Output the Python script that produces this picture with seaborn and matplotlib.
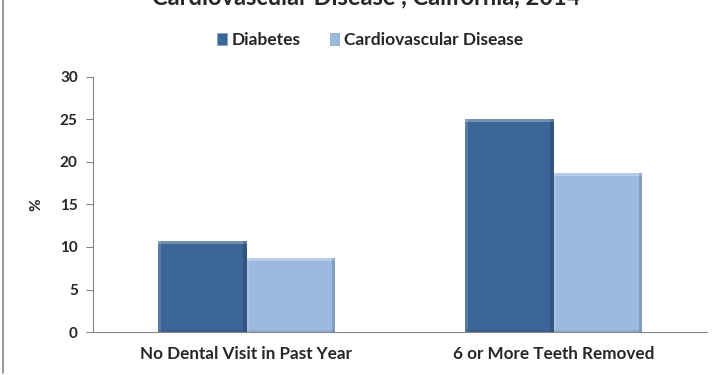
import matplotlib
matplotlib.use("Agg")
import matplotlib.pyplot as plt
import seaborn as sns
import pandas as pd
from matplotlib.patches import Rectangle
from matplotlib.lines import Line2D

categories = ["No Dental Visit in Past Year", "6 or More Teeth Removed"]
series_names = ["Diabetes", "Cardiovascular Disease"]
diabetes = [10.7, 25.0]
cardio = [8.7, 18.7]
y_ticks = [0, 5, 10, 15, 20, 25, 30]

colors = ["#3D6698", "#9CB9E0"]

df = pd.DataFrame({
    "category": categories * 2,
    "series": [series_names[0]] * 2 + [series_names[1]] * 2,
    "value": diabetes + cardio,
})

sns.set_style("white")
plt.rcParams["font.family"] = ["Lato", "DejaVu Sans"]
plt.rcParams["font.weight"] = "bold"

fig = plt.figure(figsize=(7.22, 3.75), dpi=100)
ax = fig.add_axes([93 / 722, 43 / 375, 614 / 722, 255 / 375])

sns.barplot(data=df, x="category", y="value", hue="series", order=categories,
            hue_order=series_names, palette=colors, width=0.575, saturation=1,
            edgecolor="none", linewidth=0, ax=ax, legend=False)

# bevel shading on each bar, derived from the drawn patches
for patch in list(ax.patches):
    x0, y0 = patch.get_x(), patch.get_y()
    w, h = patch.get_width(), patch.get_height()
    z = patch.get_zorder() + 0.1
    ax.add_patch(Rectangle((x0, y0 + h - 0.3), w, 0.3, facecolor="white",
                           alpha=0.28, linewidth=0, zorder=z))
    ax.add_patch(Rectangle((x0, y0), 0.008, h, facecolor="white",
                           alpha=0.15, linewidth=0, zorder=z))
    ax.add_patch(Rectangle((x0 + w - 0.01, y0), 0.01, h, facecolor="black",
                           alpha=0.15, linewidth=0, zorder=z))
    ax.add_patch(Rectangle((x0, y0), w, 0.25, facecolor="black",
                           alpha=0.08, linewidth=0, zorder=z))

ax.set_xlim(-0.5, 1.5)
ax.set_ylim(0, 30)
ax.set_yticks(y_ticks)
ax.set_yticklabels([str(v) for v in y_ticks], fontsize=11, fontweight="bold")
ax.set_xticks(range(len(categories)))
ax.set_xticklabels(categories, fontsize=12.3, fontweight="bold")
ax.set_xticks([-0.5, 0.5, 1.5], minor=True)
ax.tick_params(axis="x", which="major", length=0, pad=10)
ax.tick_params(axis="x", which="minor", length=5, width=0.8, color="#868686", direction="out")
ax.tick_params(axis="y", length=5, width=0.8, color="#868686", direction="out", pad=6, left=True)
ax.set_xlabel("")
ax.set_ylabel("%", fontsize=11, fontweight="bold", labelpad=12)

for side in ["top", "right"]:
    ax.spines[side].set_visible(False)
for side in ["left", "bottom"]:
    ax.spines[side].set_color("#868686")
    ax.spines[side].set_linewidth(0.8)

handles = [Rectangle((0, 0), 1, 1, facecolor=c, edgecolor="#7f9fc8", linewidth=0.5)
           for c in colors]
fig.legend(handles, series_names, loc="center", bbox_to_anchor=(370 / 722, 1 - 40 / 375),
           ncol=2, frameon=False, handlelength=0.55, handleheight=0.7, handletextpad=0.25,
           columnspacing=1.7, prop={"size": 12.5, "weight": "bold"})

fig.text(366 / 722, 1 - 4 / 375, "Cardiovascular Disease , California, 2014",
         ha="center", va="baseline", fontsize=17, fontweight="bold")

fig.add_artist(Line2D([3 / 722, 3 / 722], [0.005, 1], color="#868686", linewidth=1.2))

fig.savefig("out.png", dpi=100)
